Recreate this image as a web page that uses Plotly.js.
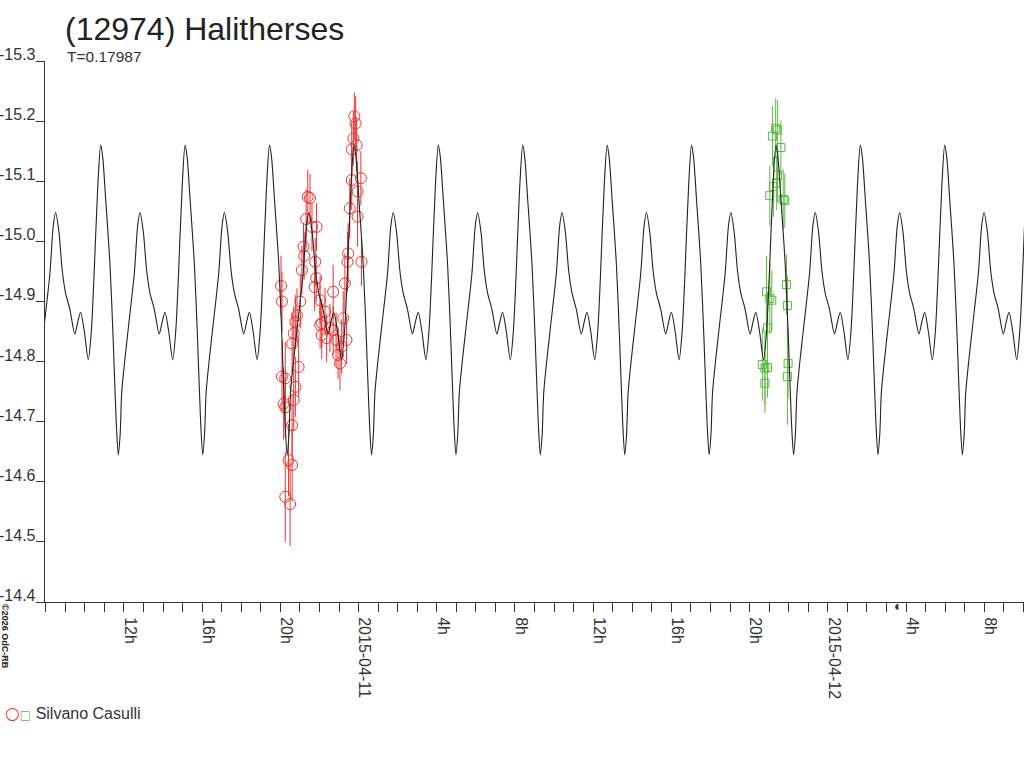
<!DOCTYPE html>
<html>
<head>
<meta charset="utf-8">
<script src="https://cdn.plot.ly/plotly-3.0.1.min.js"></script>
<style>
  body { margin: 0; background: #fff; }
  #plot { width: 1024px; height: 768px; }
</style>
</head>
<body>
<div id="plot"></div>
<script>
// lightcurve model: one rotation, phase from the main maximum
var period = 0.17987; // days
var epoch = "2015-04-10 10:48:36";
var modelPhase = [0, 0.024, 0.059, 0.110, 0.149, 0.184, 0.209, 0.231, 0.249, 0.284,
  0.327, 0.398, 0.438, 0.466, 0.505, 0.545, 0.584, 0.635, 0.694, 0.729,
  0.762, 0.806, 0.853, 0.889, 0.919, 0.967];
var modelMag = [-15.160, -15.140, -15.070, -14.962, -14.833, -14.700, -14.645, -14.680, -14.748, -14.800,
  -14.855, -14.946, -15.026, -15.048, -15.016, -14.951, -14.914, -14.887, -14.846, -14.866,
  -14.882, -14.850, -14.803, -14.850, -14.935, -15.096];

// Silvano Casulli, night 1 (circles)
var redTime = ["2015-04-10 20:02", "2015-04-10 20:05", "2015-04-10 20:05", "2015-04-10 20:10", "2015-04-10 20:15",
  "2015-04-10 20:15", "2015-04-10 20:15", "2015-04-10 20:25", "2015-04-10 20:30", "2015-04-10 20:36",
  "2015-04-10 20:36", "2015-04-10 20:36", "2015-04-10 20:41", "2015-04-10 20:41", "2015-04-10 20:46",
  "2015-04-10 20:46", "2015-04-10 20:51", "2015-04-10 20:56", "2015-04-10 21:01", "2015-04-10 21:06",
  "2015-04-10 21:11", "2015-04-10 21:13", "2015-04-10 21:19", "2015-04-10 21:24", "2015-04-10 21:31",
  "2015-04-10 21:37", "2015-04-10 21:45", "2015-04-10 21:47", "2015-04-10 21:50", "2015-04-10 21:51",
  "2015-04-10 22:02", "2015-04-10 22:02", "2015-04-10 22:07", "2015-04-10 22:07", "2015-04-10 22:17",
  "2015-04-10 22:22", "2015-04-10 22:32", "2015-04-10 22:42", "2015-04-10 22:42", "2015-04-10 22:51",
  "2015-04-10 22:57", "2015-04-10 23:03", "2015-04-10 23:08", "2015-04-10 23:13", "2015-04-10 23:18",
  "2015-04-10 23:23", "2015-04-10 23:26", "2015-04-10 23:28", "2015-04-10 23:33", "2015-04-10 23:39",
  "2015-04-10 23:39", "2015-04-10 23:44", "2015-04-10 23:47", "2015-04-10 23:51", "2015-04-10 23:54",
  "2015-04-10 23:57", "2015-04-10 23:57", "2015-04-11 00:07", "2015-04-11 00:09"];
var redMag = [-14.926, -14.900, -14.775, -14.730, -14.772,
  -14.724, -14.575, -14.636, -14.563, -14.628,
  -14.694, -14.830, -14.736, -14.847, -14.758,
  -14.866, -14.877, -14.791, -14.900, -14.952,
  -14.991, -14.976, -15.037, -15.074, -15.072,
  -15.024, -14.924, -14.966, -14.939, -15.024,
  -14.902, -14.861, -14.864, -14.844, -14.883,
  -14.839, -14.856, -14.916, -14.852, -14.836,
  -14.811, -14.797, -14.825, -14.872, -14.930,
  -14.836, -14.966, -14.980, -15.055, -15.102,
  -15.153, -15.171, -15.208, -15.196, -15.160,
  -15.083, -15.041, -15.105, -14.966];
var redErr = [0.05, 0.05, 0.06, 0.06, 0.06,
  0.05, 0.075, 0.06, 0.07, 0.06,
  0.05, 0.05, 0.05, 0.045, 0.05,
  0.045, 0.045, 0.05, 0.045, 0.04,
  0.04, 0.04, 0.05, 0.045, 0.04,
  0.04, 0.04, 0.04, 0.04, 0.04,
  0.04, 0.04, 0.04, 0.04, 0.04,
  0.04, 0.04, 0.045, 0.04, 0.045,
  0.04, 0.045, 0.045, 0.045, 0.05,
  0.04, 0.05, 0.05, 0.05, 0.05,
  0.045, 0.045, 0.04, 0.045, 0.045,
  0.05, 0.05, 0.045, 0.04];

// Silvano Casulli, night 2 (squares)
var greenTime = ["2015-04-11 20:39", "2015-04-11 20:47", "2015-04-11 20:47", "2015-04-11 20:52", "2015-04-11 20:55",
  "2015-04-11 20:55", "2015-04-11 21:02", "2015-04-11 21:02", "2015-04-11 21:08", "2015-04-11 21:10",
  "2015-04-11 21:13", "2015-04-11 21:20", "2015-04-11 21:23", "2015-04-11 21:26", "2015-04-11 21:26",
  "2015-04-11 21:36", "2015-04-11 21:43", "2015-04-11 21:48", "2015-04-11 21:53", "2015-04-11 21:56",
  "2015-04-11 21:56", "2015-04-11 21:58"];
var greenMag = [-14.795, -14.789, -14.764, -14.916, -14.790,
  -14.856, -14.905, -15.076, -14.902, -15.175,
  -15.091, -15.188, -15.097, -15.185, -15.110,
  -15.156, -15.070, -15.068, -14.928, -14.893,
  -14.775, -14.797];
var greenErr = [0.06, 0.06, 0.05, 0.06, 0.05,
  0.06, 0.06, 0.05, 0.05, 0.05,
  0.05, 0.05, 0.045, 0.05, 0.045,
  0.045, 0.05, 0.045, 0.05, 0.05,
  0.08, 0.06];

var xTickVals = ["2015-04-10 12:00", "2015-04-10 16:00", "2015-04-10 20:00", "2015-04-11 00:00",
  "2015-04-11 04:00", "2015-04-11 08:00", "2015-04-11 12:00", "2015-04-11 16:00",
  "2015-04-11 20:00", "2015-04-12 00:00", "2015-04-12 04:00", "2015-04-12 08:00"];
var xTickText = ["12h", "16h", "20h", "2015-04-11", "4h", "8h", "12h", "16h", "20h", "2015-04-12", "4h", "8h"];
var yTicks = [-15.3, -15.2, -15.1, -15.0, -14.9, -14.8, -14.7, -14.6, -14.5, -14.4];

var FONT = "Liberation Sans, Arial, sans-serif";
var INK = "#333";

// repeat the rotation over the plotted time span
function toStr(ms) {
  return new Date(ms).toISOString().slice(0, 19).replace("T", " ");
}
var epochMs = Date.parse(epoch.replace(" ", "T") + "Z");
var periodMs = period * 86400000;
var curveX = [], curveY = [];
for (var k = -1; k <= 11; k++) {
  for (var i = 0; i < modelPhase.length; i++) {
    curveX.push(toStr(epochMs + (k + modelPhase[i]) * periodMs));
    curveY.push(modelMag[i]);
  }
}

var data = [
  {
    type: "scatter", mode: "markers",
    x: redTime, y: redMag,
    marker: { symbol: "circle-open", size: 11, color: "#ee3333", line: { width: 1 } },
    error_y: { type: "data", array: redErr, visible: true, color: "#ee3333", thickness: 1, width: 0 },
    showlegend: false
  },
  {
    type: "scatter", mode: "markers",
    x: greenTime, y: greenMag,
    marker: { symbol: "square-open", size: 8, color: "#5cb840", line: { width: 1 } },
    error_y: { type: "data", array: greenErr, visible: true, color: "#5cb840", thickness: 1, width: 0 },
    showlegend: false
  },
  {
    type: "scatter", mode: "lines",
    x: curveX, y: curveY,
    line: { color: "#222", width: 1.1, shape: "spline", smoothing: 0.8 },
    showlegend: false
  }
];

var annotations = yTicks.map(function (v) {
  return {
    xref: "paper", yref: "y", x: 0, y: v,
    xanchor: "right", yanchor: "bottom", xshift: -8, yshift: -3,
    text: v.toFixed(1), showarrow: false, borderpad: 0,
    font: { family: FONT, size: 16, color: INK }
  };
});
annotations.push(
  {
    xref: "paper", yref: "paper", x: 0.0204, y: 1.0074,
    xanchor: "left", yanchor: "middle",
    text: "T=0.17987", showarrow: false,
    font: { family: FONT, size: 15.5, color: INK }
  },
  {
    xref: "paper", yref: "paper", x: -0.0409, y: -0.0647,
    xanchor: "center", yanchor: "middle", textangle: 90,
    text: "<b>©2026 OdC-RB</b>", showarrow: false,
    font: { family: FONT, size: 9, color: "#222" }
  },
  {
    xref: "paper", yref: "paper", x: 0.870, y: -0.008,
    xanchor: "center", yanchor: "middle",
    text: "◖", showarrow: false,
    font: { family: "DejaVu Sans", size: 8, color: INK }
  },
  {
    xref: "paper", yref: "paper", x: -0.043, y: -0.205,
    xanchor: "left", yanchor: "middle",
    text: '<span style="color:#ee3333;font-size:23px">○</span><span style="color:#5cb840;font-size:15px">□</span>  Silvano Casulli',
    showarrow: false,
    font: { family: "DejaVu Sans, sans-serif", size: 16, color: INK }
  }
);
// keep the legend name in the chart font
annotations[annotations.length - 1].text =
  '<span style="color:#ee3333;font-family:DejaVu Sans;font-size:17px">○</span>' +
  '<span style="color:#5cb840;font-family:DejaVu Sans;font-size:12px">□</span>' +
  '<span style="font-family:Liberation Sans"> Silvano Casulli</span>';

var layout = {
  width: 1024, height: 768,
  margin: { l: 45, r: 0, t: 61, b: 166 },
  paper_bgcolor: "#fff", plot_bgcolor: "#fff",
  title: {
    text: "(12974) Halitherses",
    x: 65 / 1024, xanchor: "left", xref: "container",
    y: 1 - 29 / 768, yanchor: "middle", yref: "container",
    font: { family: FONT, size: 32, color: "#222" }
  },
  xaxis: {
    type: "date",
    range: ["2015-04-10 07:57:43", "2015-04-12 10:02:00"],
    tickmode: "array", tickvals: xTickVals, ticktext: xTickText,
    tickangle: 90, ticks: "outside", ticklen: 9, tickcolor: INK, tickwidth: 1,
    ticklabelshift: 6, ticklabelstandoff: 2,
    minor: { dtick: 3600000, tick0: "2015-04-10 00:00", ticks: "outside", ticklen: 9, tickcolor: INK, tickwidth: 1 },
    tickfont: { family: FONT, size: 16, color: INK },
    showline: true, linecolor: INK, linewidth: 1,
    showgrid: false, zeroline: false, fixedrange: true
  },
  yaxis: {
    range: [-14.4, -15.3],
    tickmode: "array", tickvals: yTicks, showticklabels: false,
    ticks: "outside", ticklen: 8, tickcolor: INK, tickwidth: 1,
    showline: true, linecolor: INK, linewidth: 1,
    showgrid: false, zeroline: false, fixedrange: true
  },
  annotations: annotations,
  hovermode: false
};

Plotly.newPlot("plot", data, layout, { displayModeBar: false, staticPlot: true });
</script>
</body>
</html>
